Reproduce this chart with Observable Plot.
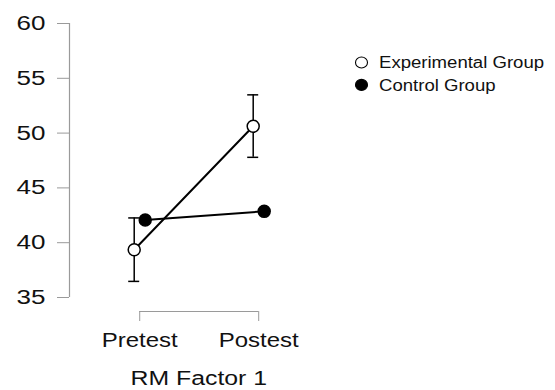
<!DOCTYPE html>
<html>
<head>
<meta charset="utf-8">
<script src="https://cdn.jsdelivr.net/npm/d3@7"></script>
<script src="https://cdn.jsdelivr.net/npm/@observablehq/plot@0.6"></script>
<style>
  html, body { margin: 0; padding: 0; background: white; }
  #chart { position: relative; width: 555px; height: 390px; }
</style>
</head>
<body>
<div id="chart"></div>
<script>
// ---- data ----
const timepoints = ["Pretest", "Postest"];
const groups = ["Experimental Group", "Control Group"];
const expMean = [39.36, 50.62];
const expLower = [36.47, 47.79];
const expUpper = [42.26, 53.49];
const ctrlMean = [42.07, 42.86];
const yTicks = [35, 40, 45, 50, 55, 60];
const axisTitle = "RM Factor 1";

// ---- build tables ----
const exp = timepoints.map((t, i) => ({x: i + 1, t, mean: expMean[i], lo: expLower[i], hi: expUpper[i]}));
const ctrl = timepoints.map((t, i) => ({x: i + 1, t, mean: ctrlMean[i]}));
const xDomain = [0.41, 2.6];
const yDomain = [d3.min(yTicks), d3.max(yTicks)];
const off = 5.5;
const axisGray = "#9a9a9a";
const ink = "#111";
const font = "'Liberation Sans', Arial, Helvetica, sans-serif";

const svg = Plot.plot({
  width: 555,
  height: 390,
  marginLeft: 69,
  marginRight: 225.4,
  marginTop: 23,
  marginBottom: 79,
  style: {fontFamily: font, background: "white", overflow: "visible"},
  x: {type: "linear", domain: xDomain},
  y: {domain: yDomain, range: [297, 23]},
  marks: [
    Plot.ruleX([xDomain[0]], {y1: yDomain[0], y2: yDomain[1], stroke: axisGray, strokeWidth: 1.2}),
    Plot.axisY({ticks: yTicks, tickSize: 12, tickPadding: 12, stroke: axisGray, fill: ink, fontSize: 20, label: null}),
    Plot.ruleY([yDomain[0]], {x1: 1, x2: timepoints.length, dy: 14, stroke: axisGray, strokeWidth: 1.2}),
    Plot.axisX({ticks: d3.range(1, timepoints.length + 1), tickFormat: d => timepoints[d - 1], tickSize: 10, tickPadding: 11, stroke: axisGray, fill: ink, fontSize: 20, label: null}),
    Plot.text([axisTitle], {frameAnchor: "bottom", lineAnchor: "top", dy: 59, dx: -1, fontSize: 20, fill: ink}),
    Plot.line(exp, {x: "x", y: "mean", dx: -off, stroke: "black", strokeWidth: 2}),
    Plot.line(ctrl, {x: "x", y: "mean", dx: off, stroke: "black", strokeWidth: 2}),
    Plot.ruleX(exp, {x: "x", y1: "lo", y2: "hi", dx: -off, stroke: "black", strokeWidth: 1.5}),
    Plot.ruleY(exp, {y: "lo", x1: "x", x2: "x", insetLeft: -5.5, insetRight: -5.5, dx: -off, stroke: "black", strokeWidth: 1.5}),
    Plot.ruleY(exp, {y: "hi", x1: "x", x2: "x", insetLeft: -5.5, insetRight: -5.5, dx: -off, stroke: "black", strokeWidth: 1.5}),
    Plot.dot(exp, {x: "x", y: "mean", dx: -off, r: 6, fill: "white", stroke: "black", strokeWidth: 1.5}),
    Plot.dot(ctrl, {x: "x", y: "mean", dx: off, r: 6, fill: "black", stroke: "black", strokeWidth: 1.5})
  ]
});

document.getElementById("chart").appendChild(svg);

// legend (drawn into the same svg)
const legend = d3.select(svg).append("g").attr("class", "legend")
  .attr("font-family", font).attr("font-size", 16).attr("fill", ink).attr("text-anchor", "start");
const fills = ["white", "black"];
groups.forEach((g, i) => {
  const row = legend.append("g").attr("transform", `translate(361.5, ${62.5 + i * 22.4})`);
  row.append("ellipse").attr("rx", 6).attr("ry", 5.5).attr("fill", fills[i]).attr("stroke", "black").attr("stroke-width", 1.1);
  row.append("text").attr("x", 17.5).attr("y", 5.8).attr("text-anchor", "start").text(g);
});

// emulate the horizontally stretched lettering of the reference
svg.querySelectorAll("text").forEach(t => {
  const len = t.getComputedTextLength();
  let k = 1.2;
  if (t.closest(".legend")) k = 1.16;
  else if (t.closest('[aria-label="y-axis tick label"]')) k = 1.3;
  else if (t.textContent === axisTitle) k = 1.24;
  if (len > 0) {
    t.setAttribute("textLength", (len * k).toFixed(2));
    t.setAttribute("lengthAdjust", "spacingAndGlyphs");
  }
});
</script>
</body>
</html>
